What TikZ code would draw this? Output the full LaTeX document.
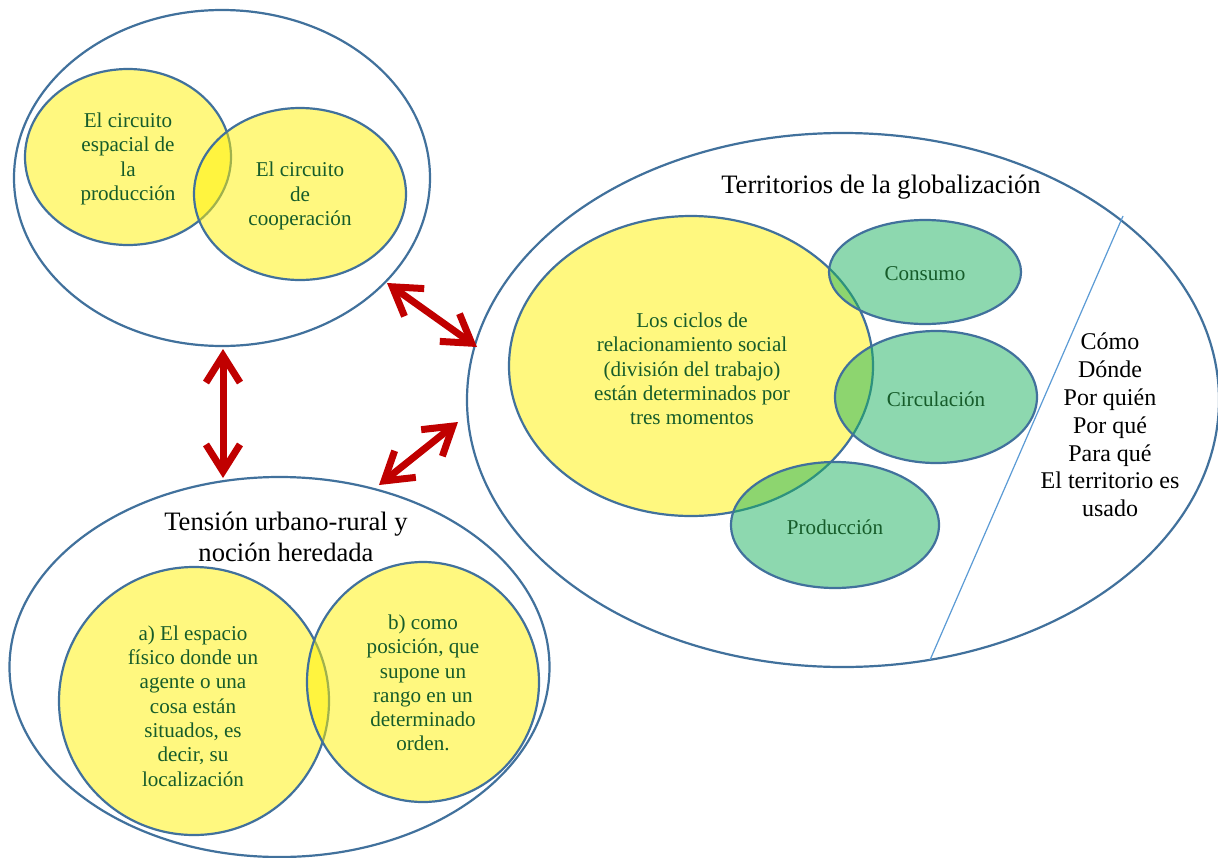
\documentclass[tikz,border=0pt]{standalone}
\usepackage{fontspec}
\setmainfont{Liberation Serif}[Ligatures=TeX]
\newfontfamily\tnr{Liberation Serif}
\usetikzlibrary{shapes.geometric,arrows.meta}
\definecolor{ringblue}{RGB}{65,113,156}
\definecolor{lineblue}{RGB}{91,155,213}
\definecolor{txtgreen}{RGB}{22,92,42}
\definecolor{fillgreen}{RGB}{29,179,97}
\definecolor{arrowred}{RGB}{192,0,0}
\tikzset{
  ell/.style={ellipse, draw=ringblue, line width=2.2pt, inner sep=0pt, outer sep=0pt},
  yel/.style={ell, fill=yellow, fill opacity=0.5},
  grn/.style={ell, fill=fillgreen, fill opacity=0.5},
  gtxt/.style={text=txtgreen, align=center, font=\tnr\fontsize{21.1}{24.3}\selectfont, inner sep=0pt},
  btxt/.style={text=black, align=center, font=\tnr\fontsize{24}{27.8}\selectfont, inner sep=0pt},
  ttl/.style={text=black, align=center, font=\tnr\fontsize{26.6}{30.4}\selectfont, inner sep=0pt},
  dblarrow/.style={draw=arrowred, line width=7pt,
    {Straight Barb[length=27pt,width=34pt]}-{Straight Barb[length=27pt,width=34pt]}}
}
\begin{document}
\begin{tikzpicture}[x=1pt,y=-1pt]
\useasboundingbox (0,0) rectangle (1218,857);
\fill[white] (0,0) rectangle (1218,857);

% top-left group
\node[ell, minimum width=416, minimum height=336] (TL) at (222,178) {};
\node[yel, minimum width=206, minimum height=176] (TLa) at (128,157) {};
\node[yel, minimum width=212, minimum height=172] (TLb) at (300,194) {};
\node[gtxt] (TLat) at (128,159) {El circuito\\espacial de\\la\\producción};
\node[gtxt] (TLbt) at (300,196) {El circuito\\de\\cooperación};

% right group
\node[ell, minimum width=752, minimum height=534] (TR) at (843,400) {};
\node[ttl] (TRt) at (881,187) {Territorios de la globalización};
\node[yel, minimum width=364, minimum height=300] (BY) at (691,366) {};
\node[grn, minimum width=192, minimum height=104] (CO) at (925,272) {};
\node[grn, minimum width=202, minimum height=132] (CI) at (936,397) {};
\node[grn, minimum width=208, minimum height=126] (PR) at (835,525) {};
\node[gtxt] (BYt) at (692,369) {Los ciclos de\\relacionamiento social\\(división del trabajo)\\están determinados por\\tres momentos};
\node[gtxt] (COt) at (925,274) {Consumo};
\node[gtxt] (CIt) at (936,399) {Circulación};
\node[gtxt] (PRt) at (835,527) {Producción};
\coordinate (L1) at (1123,216);
\coordinate (L2) at (930,660);
\draw[lineblue, line width=1.2pt] (L1) -- (L2);
\node[btxt] (LST) at (1110,425) {Cómo\\Dónde\\Por quién\\Por qué\\Para qué\\El territorio es\\usado};

% bottom-left group
\node[ell, minimum width=540, minimum height=380] (BL) at (279.5,667) {};
\node[ttl] (BLt) at (286,537) {Tensión urbano-rural y\\noción heredada};
\node[yel, minimum width=270, minimum height=268] (BLa) at (194,701) {};
\node[yel, minimum width=232, minimum height=240] (BLb) at (423,682) {};
\node[gtxt] (BLat) at (193,706) {a) El espacio\\físico donde un\\agente o una\\cosa están\\situados, es\\decir, su\\localización};
\node[gtxt] (BLbt) at (423,683) {b) como\\posición, que\\supone un\\rango en un\\determinado\\orden.};

% arrows
\coordinate (A1s) at (387,283);
\coordinate (A1e) at (477,347);
\coordinate (A2s) at (223,349);
\coordinate (A2e) at (223,478);
\coordinate (A3s) at (379,485);
\coordinate (A3e) at (458,422);
\draw[dblarrow] (A1s) -- (A1e);
\draw[dblarrow] (A2s) -- (A2e);
\draw[dblarrow] (A3s) -- (A3e);
\end{tikzpicture}
\end{document}
